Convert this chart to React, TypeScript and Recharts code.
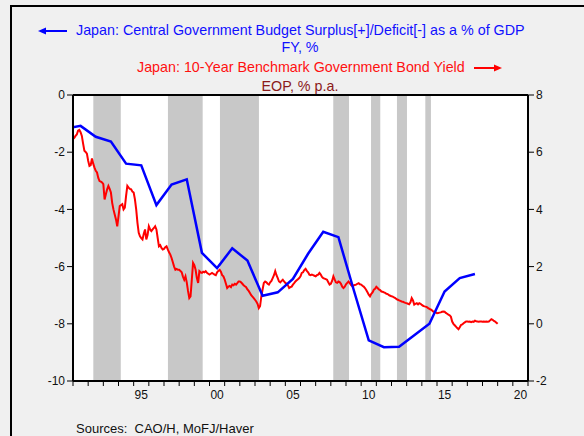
import React from 'react';
import {
    ComposedChart,
    Line,
    XAxis,
    YAxis,
    CartesianGrid,
    ReferenceArea,
    ReferenceLine
} from 'recharts';

// budget balance, % of GDP, by fiscal year (left axis)
const fiscalYears = [
    1990, 1991, 1992, 1993, 1994, 1995, 1996, 1997, 1998, 1999,
    2000, 2001, 2002, 2003, 2004, 2005, 2006, 2007, 2008, 2009,
    2010, 2011, 2012, 2013, 2014, 2015, 2016, 2017
];
const budgetBalance = [
    -1.18, -1.08, -1.46, -1.63, -2.4, -2.46, -3.85, -3.13, -2.95, -5.52,
    -6.05, -5.36, -5.79, -7.02, -6.9, -6.43, -5.55, -4.78, -4.97, -6.8,
    -8.58, -8.82, -8.8, -8.4, -8.0, -6.87, -6.4, -6.26
];

// 10y JGB yield, end of month, Jan 1991 .. Jan 2019 (right axis)
const yieldStartYear = 1991;
const bondYield = [
    6.46, 6.50, 6.57, 6.62, 6.75, 6.78, 6.70, 6.57, 6.30, 6.05, 6.01, 5.95,
    5.70, 5.52, 5.55, 5.78, 5.60, 5.46, 5.35, 5.29, 5.10, 4.99, 4.97, 4.94,
    4.88, 4.35, 4.53, 4.70, 4.82, 4.72, 4.59, 4.23, 4.00, 3.82, 3.65, 3.41,
    3.76, 4.12, 4.15, 4.18, 4.00, 4.06, 4.47, 4.82, 4.76, 4.72, 4.70, 4.62,
    4.59, 4.35, 4.00, 3.53, 3.18, 3.06, 3.00, 2.95, 3.15, 3.30, 2.95, 3.10,
    3.41, 3.30, 3.24, 3.30, 3.35, 3.41, 3.30, 3.00, 2.71, 2.75, 2.65, 2.60,
    2.62, 2.68, 2.71, 2.60, 2.50, 2.42, 2.30, 2.15, 2.00, 1.89, 1.92, 1.89,
    1.89, 1.85, 1.80, 1.65, 1.54, 1.66, 1.45, 1.15, 0.90, 0.96, 1.54, 2.13,
    2.05, 1.89, 1.60, 1.43, 1.84, 1.80, 1.78, 1.82, 1.80, 1.84, 1.78, 1.75,
    1.72, 1.75, 1.78, 1.75, 1.72, 1.70, 1.80, 1.85, 1.89, 1.82, 1.70, 1.66,
    1.55, 1.40, 1.25, 1.30, 1.32, 1.28, 1.37, 1.35, 1.40, 1.37, 1.42, 1.48,
    1.48, 1.45, 1.40, 1.35, 1.31, 1.28, 1.20, 1.15, 1.08, 1.00, 0.95, 0.90,
    0.84, 0.78, 0.70, 0.55, 0.62, 0.96, 1.20, 1.43, 1.48, 1.45, 1.40, 1.37,
    1.45, 1.50, 1.60, 1.70, 1.84, 1.70, 1.60, 1.48, 1.45, 1.50, 1.54, 1.48,
    1.43, 1.40, 1.35, 1.25, 1.28, 1.30, 1.37, 1.42, 1.48, 1.52, 1.56, 1.60,
    1.66, 1.78, 1.80, 1.88, 1.92, 1.85, 1.80, 1.72, 1.70, 1.72, 1.70, 1.68,
    1.66, 1.70, 1.72, 1.78, 1.72, 1.64, 1.60, 1.58, 1.56, 1.54, 1.45, 1.37,
    1.40, 1.50, 1.66, 1.55, 1.45, 1.43, 1.48, 1.46, 1.40, 1.30, 1.25, 1.30,
    1.38, 1.43, 1.48, 1.42, 1.35, 1.31, 1.34, 1.36, 1.37, 1.40, 1.42, 1.38,
    1.37, 1.33, 1.30, 1.25, 1.18, 1.10, 1.02, 0.96, 1.05, 1.10, 1.19, 1.22,
    1.29, 1.25, 1.20, 1.18, 1.13, 1.12, 1.10, 1.08, 1.05, 1.04, 1.00, 0.98,
    0.96, 0.95, 0.92, 0.90, 0.86, 0.84, 0.82, 0.80, 0.78, 0.77, 0.75, 0.73,
    0.72, 0.70, 0.68, 0.75, 0.90, 0.82, 0.67, 0.70, 0.72, 0.68, 0.72, 0.70,
    0.66, 0.63, 0.61, 0.60, 0.58, 0.55, 0.52, 0.50, 0.47, 0.43, 0.42, 0.40,
    0.37, 0.38, 0.39, 0.40, 0.42, 0.43, 0.42, 0.38, 0.35, 0.32, 0.30, 0.25,
    0.08, 0.00, -0.05, -0.10, -0.15, -0.19, -0.12, -0.04, -0.02, 0.02, 0.05, 0.08,
    0.08, 0.07, 0.08, 0.06, 0.08, 0.07, 0.11, 0.09, 0.08, 0.07, 0.08, 0.08,
    0.07, 0.08, 0.07, 0.08, 0.07, 0.08, 0.12, 0.16, 0.14, 0.10, 0.08, 0.04,
    0.00
];

// shaded recession periods
const recessionStart = [1992.34, 1997.26, 2000.69, 2008.16, 2010.65, 2012.36, 2014.23];
const recessionEnd = [1994.15, 1999.55, 2003.26, 2009.2, 2011.26, 2013.02, 2014.6];

const yearTicks = Array.from({ length: 31 }, (_, i) => 1991 + i);
const labelYears = [1995, 2000, 2005, 2010, 2015, 2020];
const leftTicks = [-10, -8, -6, -4, -2, 0];
const rightTicks = [-2, 0, 2, 4, 6, 8];

const budgetData = fiscalYears.map((fy, i) => ({ x: fy + 0.5, v: budgetBalance[i] }));
const yieldData = bondYield.map((v, i) => ({ x: yieldStartYear + i / 12, v }));

const FONT = '"Liberation Sans", Arial, sans-serif';
const tickStyle = { fill: '#111', fontSize: 12, fontFamily: FONT };
const titleSize = 14.3;

const App: React.FC = () => {
    return (
        <div style={{ position: 'absolute', left: 0, top: 0, width: 584, height: 436, background: '#f0f0f0', overflow: 'hidden' }}>
            <div style={{ position: 'absolute', left: 10, top: 5, width: 700, height: 600, borderTop: '2px solid #000', borderLeft: '2px solid #000' }} />

            <svg style={{ position: 'absolute', left: 38, top: 26 }} width={30} height={10}>
                <line x1={7} y1={5} x2={29} y2={5} stroke="#0000ff" strokeWidth={2} />
                <polygon points="0,5 8,1.5 8,8.5" fill="#0000ff" />
            </svg>
            <div style={{ position: 'absolute', left: 76, top: 22, fontFamily: FONT, fontSize: titleSize, lineHeight: '17px', color: '#1010ff', whiteSpace: 'nowrap' }}>
                Japan: Central Government Budget Surplus[+]/Deficit[-] as a % of GDP
            </div>
            <div style={{ position: 'absolute', left: 200, width: 200, top: 39, textAlign: 'center', fontFamily: FONT, fontSize: titleSize, lineHeight: '17px', color: '#1010ff' }}>
                FY, %
            </div>
            <div style={{ position: 'absolute', left: 137, top: 59, fontFamily: FONT, fontSize: titleSize, lineHeight: '17px', color: '#ff1010', whiteSpace: 'nowrap' }}>
                Japan: 10-Year Benchmark Government Bond Yield
            </div>
            <svg style={{ position: 'absolute', left: 473, top: 63 }} width={30} height={10}>
                <line x1={1} y1={5} x2={22} y2={5} stroke="#ff0000" strokeWidth={2} />
                <polygon points="29,5 21,1.5 21,8.5" fill="#ff0000" />
            </svg>
            <div style={{ position: 'absolute', left: 200, width: 200, top: 78, textAlign: 'center', fontFamily: FONT, fontSize: titleSize, lineHeight: '17px', color: '#8b1a1a' }}>
                EOP, % p.a.
            </div>

            <div style={{ position: 'absolute', left: 0, top: 0 }}>
                <ComposedChart width={584} height={436} margin={{ top: 95, right: 16, bottom: 27, left: 13 }}>
                    <XAxis
                        xAxisId="b"
                        type="number"
                        dataKey="x"
                        domain={[1991, 2021]}
                        ticks={labelYears.map((y) => y + 0.5)}
                        tickFormatter={(v: number) => String(Math.floor(v) % 100).padStart(2, '0')}
                        tickSize={0}
                        tickMargin={3}
                        height={22}
                        axisLine={false}
                        tickLine={false}
                        tick={tickStyle}
                    />
                    <XAxis
                        xAxisId="a"
                        type="number"
                        dataKey="x"
                        domain={[1991, 2021]}
                        allowDataOverflow
                        ticks={yearTicks}
                        tickFormatter={() => ''}
                        tickSize={5}
                        height={6}
                        axisLine={{ stroke: '#000', strokeWidth: 2 }}
                        tickLine={{ stroke: '#000' }}
                    />
                    <YAxis
                        yAxisId="l"
                        domain={[-10, 0]}
                        ticks={leftTicks}
                        width={60}
                        tickSize={6}
                        tickMargin={2}
                        axisLine={{ stroke: '#000', strokeWidth: 2 }}
                        tickLine={{ stroke: '#000' }}
                        tick={tickStyle}
                    />
                    <YAxis
                        yAxisId="r"
                        orientation="right"
                        domain={[-2, 8]}
                        ticks={rightTicks}
                        width={40}
                        tickSize={6}
                        tickMargin={2}
                        axisLine={{ stroke: '#000', strokeWidth: 2 }}
                        tickLine={{ stroke: '#000' }}
                        tick={tickStyle}
                    />
                    <ReferenceArea xAxisId="a" yAxisId="l" x1={1991} x2={2021} y1={-10} y2={0} fill="#ffffff" fillOpacity={1} stroke="none" />
                    {recessionStart.map((s, i) => (
                        <ReferenceArea key={i} xAxisId="a" yAxisId="l" x1={s} x2={recessionEnd[i]} y1={-10} y2={0} fill="#c8c8c8" fillOpacity={1} stroke="none" />
                    ))}
                    <CartesianGrid xAxisId="a" yAxisId="l" vertical={false} stroke="#333" strokeDasharray="2 2" />
                    <Line xAxisId="b" yAxisId="r" data={yieldData} dataKey="v" type="linear" stroke="#ff0000" strokeWidth={2} dot={false} isAnimationActive={false} />
                    <Line xAxisId="a" yAxisId="l" data={budgetData} dataKey="v" type="linear" stroke="#0000ff" strokeWidth={2.5} dot={false} isAnimationActive={false} />
                    <ReferenceLine xAxisId="a" yAxisId="l" y={0} stroke="#000" strokeWidth={2} />
                </ComposedChart>
            </div>

            <div style={{ position: 'absolute', left: 76, top: 421, fontFamily: FONT, fontSize: 13, lineHeight: '15px', color: '#111', whiteSpace: 'pre' }}>
                Sources:  CAO/H, MoFJ/Haver
            </div>
        </div>
    );
};

export default App;
